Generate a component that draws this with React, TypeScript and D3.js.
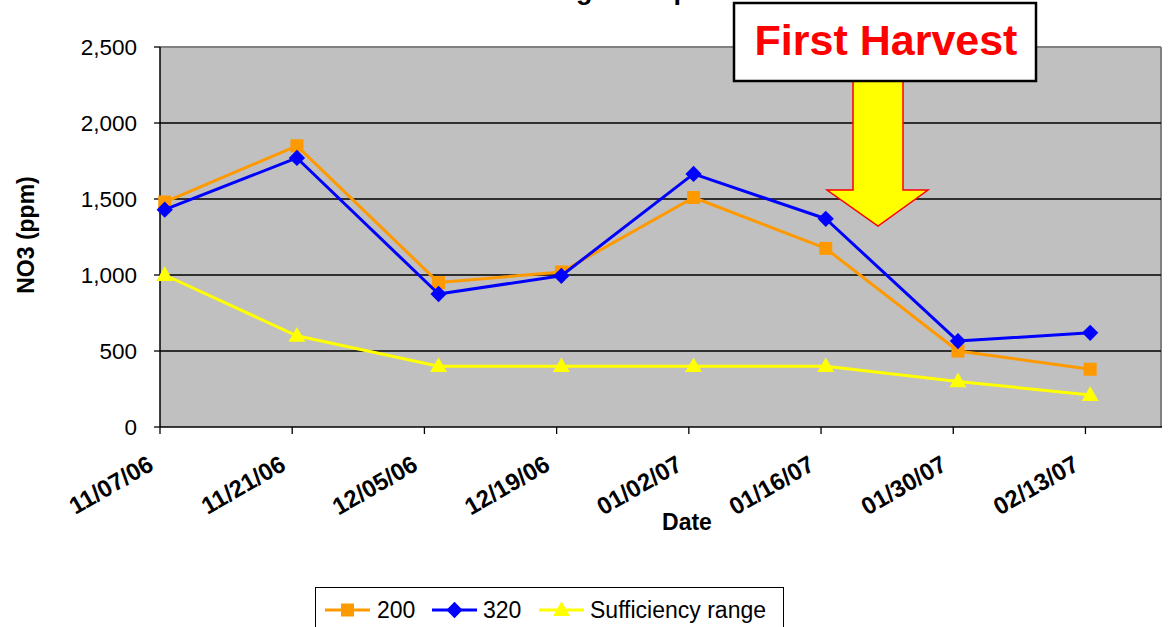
import React from 'react';
import * as d3 from 'd3';

const tickLabels = ["11/07/06", "11/21/06", "12/05/06", "12/19/06", "01/02/07", "01/16/07", "01/30/07", "02/13/07"];
const axisStart = "11/07/06";
const axisEnd = "02/21/07";
const sampleDates = ["11/07/06", "11/21/06", "12/06/06", "12/19/06", "01/02/07", "01/16/07", "01/30/07", "02/13/07"];
const series200 = [1480, 1850, 950, 1020, 1510, 1175, 500, 380];
const series320 = [1430, 1770, 875, 995, 1665, 1370, 565, 620];
const sufficiency = [1000, 600, 400, 400, 400, 400, 300, 210];
const yTicks = [0, 500, 1000, 1500, 2000, 2500];
const seriesNames = ["200", "320", "Sufficiency range"];

const FONT = "'Liberation Sans', Arial, sans-serif";

export default function App() {
  const W = 1171, H = 627;
  const left = 160, right = 1161, top = 47, bottom = 427;
  const parse = d3.utcParse("%m/%d/%y");
  const x = d3.scaleUtc().domain([parse(axisStart)!, parse(axisEnd)!]).range([left, right]);
  const y = d3.scaleLinear().domain([0, 2500]).range([bottom, top]);
  const fmt = d3.format(",");
  const px = (s: string) => x(d3.utcHour.offset(parse(s)!, 12));

  const line = d3.line<[number, number]>().x(d => d[0]).y(d => d[1]);
  const series = [
    { name: seriesNames[0], values: series200, color: "#FF9900", shape: "square" },
    { name: seriesNames[1], values: series320, color: "#0000FF", shape: "diamond" },
    { name: seriesNames[2], values: sufficiency, color: "#FFFF00", shape: "triangle" },
  ];
  const symbolPath = (shape: string) => {
    if (shape === "square") return d3.symbol().type(d3.symbolSquare).size(13 * 13)()!;
    if (shape === "diamond") return d3.symbol().type(d3.symbolSquare).size(11.5 * 11.5)()!;
    return d3.symbol().type(d3.symbolTriangle).size(Math.sqrt(3) / 4 * 17 * 17)()!;
  };
  const marker = (shape: string, cx: number, cy: number, color: string, key: any) => (
    <path key={key} d={symbolPath(shape)} fill={color} stroke="none"
      transform={`translate(${cx},${cy})${shape === "diamond" ? " rotate(45)" : ""}${shape === "triangle" ? " translate(0,1)" : ""}`} />
  );

  // arrow geometry
  const arrow = [[853, 80], [903, 80], [903, 190], [928, 190], [878, 226], [827, 190], [853, 190]];

  const legendItems = [
    { lx: 325, tx: 377 },
    { lx: 432, tx: 483 },
    { lx: 539, tx: 590 },
  ];

  return (
    <svg width={W} height={H} style={{ position: "absolute", left: 0, top: 0, background: "#fff" }} fontFamily={FONT}>
      {/* title (mostly outside view, as in the reference) */}
      <text y={-1} fontSize={27} fontWeight="bold" fill="#000">
        <tspan x={576} textAnchor="end">Nitrate Testin</tspan>
        <tspan x={576}>g - Samples</tspan>
      </text>

      {/* plot area */}
      <rect x={left} y={top} width={right - left} height={bottom - top} fill="#C0C0C0" />
      <line x1={left} x2={right} y1={top} y2={top} stroke="#808080" strokeWidth={2} />
      <line x1={right} x2={right} y1={top} y2={bottom} stroke="#808080" strokeWidth={2} />
      {yTicks.filter(t => t > 0 && t < 2500).map(t => (
        <line key={t} x1={left} x2={right} y1={y(t)} y2={y(t)} stroke="#000" strokeWidth={1.3} />
      ))}

      {/* y axis */}
      <line x1={left} x2={left} y1={top} y2={bottom} stroke="#000" strokeWidth={1.5} />
      {yTicks.map(t => (
        <g key={t}>
          <line x1={left - 6} x2={left} y1={y(t)} y2={y(t)} stroke="#000" strokeWidth={1.3} />
          <text x={137} y={y(t)} dy="0.36em" textAnchor="end" fontSize={22.5} fill="#000">{fmt(t)}</text>
        </g>
      ))}
      <text transform={`translate(34,235) rotate(-90)`} textAnchor="middle" fontSize={23} fontWeight="bold">NO3 (ppm)</text>

      {/* x axis */}
      <line x1={left} x2={right + 1} y1={bottom} y2={bottom} stroke="#000" strokeWidth={1.5} />
      {tickLabels.map(l => {
        const tx = x(parse(l)!);
        return (
          <g key={l}>
            <line x1={tx} x2={tx} y1={bottom} y2={bottom + 7} stroke="#000" strokeWidth={1.3} />
            <text transform={`translate(${tx - 5},469) rotate(-30)`} textAnchor="end" fontSize={24} fontWeight="bold">{l}</text>
          </g>
        );
      })}
      <text x={687} y={530} textAnchor="middle" fontSize={23} fontWeight="bold">Date</text>

      {/* series */}
      {series.map((s, si) => {
        const pts: [number, number][] = s.values.map((v, i) => [px(sampleDates[i]), y(v)]);
        return (
          <g key={si}>
            <path d={line(pts)!} fill="none" stroke={s.color} strokeWidth={3} strokeLinejoin="round" />
            {pts.map((p, i) => marker(s.shape, p[0], p[1], s.color, i))}
          </g>
        );
      })}

      {/* arrow + callout */}
      <polygon points={arrow.map(p => p.join(",")).join(" ")} fill="#FFFF00" stroke="#FF0000" strokeWidth={1.5} strokeLinejoin="miter" />
      <rect x={734} y={3} width={302} height={78} fill="#fff" stroke="#000" strokeWidth={2.5} />
      <text x={886} y={55} textAnchor="middle" fontSize={43} fontWeight="bold" fill="#FF0000">First Harvest</text>

      {/* legend */}
      <rect x={315.5} y={587.5} width={468} height={60} fill="#fff" stroke="#000" strokeWidth={1} />
      {series.map((s, i) => {
        const it = legendItems[i];
        const ly = 610;
        return (
          <g key={s.name}>
            <line x1={it.lx} x2={it.lx + 45} y1={ly} y2={ly} stroke={s.color} strokeWidth={3} />
            {marker(s.shape, it.lx + 22.5, ly, s.color, "m")}
            <text x={it.tx} y={618} fontSize={23} fill="#000">{s.name}</text>
          </g>
        );
      })}
    </svg>
  );
}
